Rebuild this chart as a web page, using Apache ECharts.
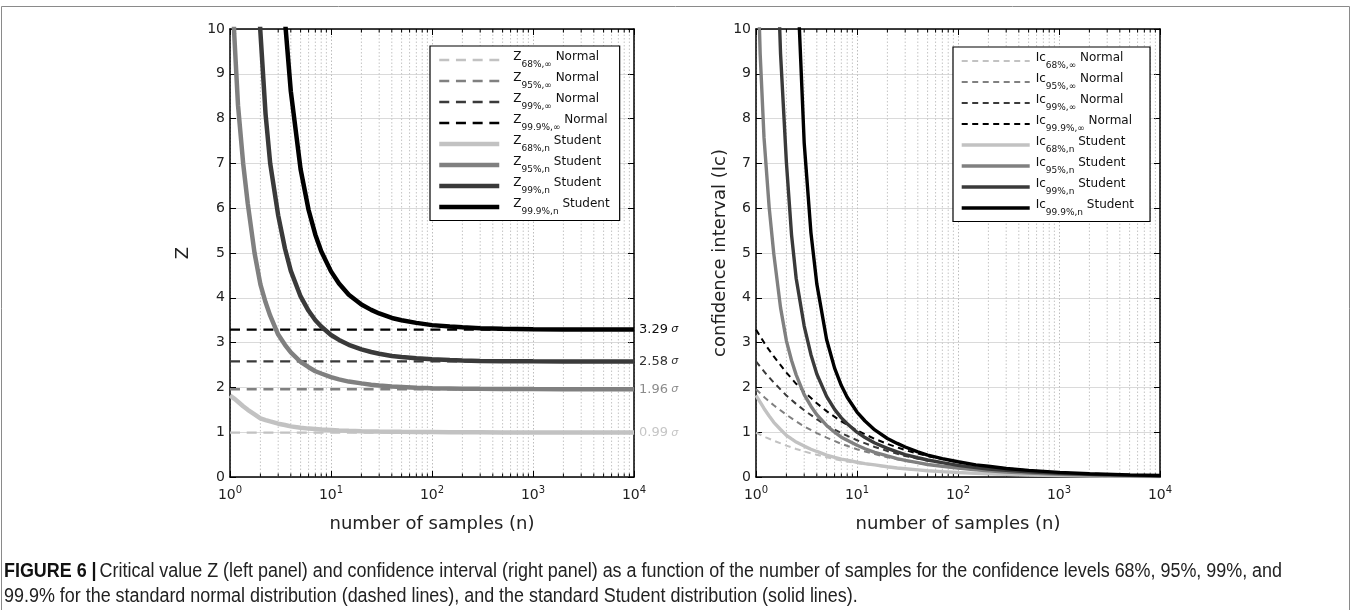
<!DOCTYPE html>
<html>
<head>
<meta charset="utf-8">
<script src="https://cdn.jsdelivr.net/npm/echarts@6.0.0/dist/echarts.min.js"></script>
<style>
  html, body { margin: 0; padding: 0; background: #fff; }
  #chart { width: 1356px; height: 610px; }
</style>
</head>
<body>
<div id="chart"></div>
<script>
// confidence levels and their normal-distribution critical values
const levels = ['68%', '95%', '99%', '99.9%'];
const normalZ = [0.99, 1.96, 2.58, 3.29];

// sample counts where the Student curves were read
const nSamples = [1, 1.1, 1.2, 1.35, 1.5, 1.75, 2, 2.25, 2.5, 3, 3.5, 4, 5, 6, 7, 8, 10, 12, 15, 20,
  25, 30, 40, 50, 70, 100, 150, 200, 300, 500, 1000, 2000, 5000, 10000];

// left panel: Student critical value Z
const zStudent68 = [1.82, 1.75, 1.68, 1.58, 1.50, 1.40, 1.31, 1.27, 1.24, 1.19, 1.16, 1.13, 1.10, 1.08, 1.07, 1.06, 1.05, 1.04, 1.03, 1.02,
  1.017, 1.014, 1.010, 1.008, 1.006, 1.004, 1.001, 0.999, 0.998, 0.996, 0.995, 0.994, 0.994, 0.994];
const zStudent95 = [12.71, 9.9, 8.3, 7.0, 6.1, 5.0, 4.30, 3.9, 3.6, 3.18, 2.95, 2.78, 2.57, 2.45, 2.36, 2.31, 2.23, 2.18, 2.13, 2.09,
  2.06, 2.04, 2.02, 2.01, 1.99, 1.98, 1.976, 1.972, 1.968, 1.965, 1.962, 1.961, 1.960, 1.960];
const zStudent99 = [null, null, null, null, null, 12.5, 9.93, 8.1, 7.0, 5.84, 5.1, 4.60, 4.03, 3.71, 3.50, 3.36, 3.17, 3.06, 2.95, 2.85,
  2.79, 2.75, 2.70, 2.68, 2.65, 2.63, 2.61, 2.60, 2.59, 2.586, 2.581, 2.578, 2.577, 2.576];
const zStudent999 = [null, null, null, null, null, null, null, null, null, 12.92, 10.2, 8.61, 6.87, 5.96, 5.41, 5.04, 4.59, 4.32, 4.07, 3.85,
  3.73, 3.65, 3.55, 3.50, 3.44, 3.39, 3.36, 3.34, 3.32, 3.31, 3.30, 3.295, 3.292, 3.291];

// right panel: Student confidence interval
const icStudent68 = [1.82, 1.67, 1.53, 1.36, 1.22, 1.06, 0.93, 0.85, 0.78, 0.69, 0.62, 0.57, 0.49, 0.44, 0.40, 0.375, 0.33, 0.30, 0.27, 0.23,
  0.20, 0.185, 0.16, 0.14, 0.12, 0.10, 0.082, 0.071, 0.058, 0.045, 0.031, 0.022, 0.014, 0.0099];
const icStudent95 = [12.71, 9.44, 7.58, 6.02, 4.98, 3.78, 3.04, 2.60, 2.28, 1.84, 1.58, 1.39, 1.15, 1.00, 0.89, 0.82, 0.71, 0.63, 0.55, 0.47,
  0.41, 0.37, 0.32, 0.28, 0.24, 0.20, 0.16, 0.14, 0.11, 0.088, 0.062, 0.044, 0.028, 0.0196];
const icStudent99 = [null, null, null, null, 13.9, 9.45, 7.02, 5.4, 4.43, 3.37, 2.73, 2.30, 1.80, 1.51, 1.32, 1.19, 1.00, 0.88, 0.76, 0.64,
  0.56, 0.50, 0.43, 0.38, 0.32, 0.26, 0.21, 0.18, 0.15, 0.116, 0.082, 0.058, 0.036, 0.026];
const icStudent999 = [null, null, null, null, null, null, null, null, 11.7, 7.46, 5.45, 4.31, 3.07, 2.43, 2.04, 1.78, 1.45, 1.25, 1.05, 0.86,
  0.75, 0.67, 0.56, 0.49, 0.41, 0.34, 0.27, 0.24, 0.19, 0.148, 0.104, 0.074, 0.047, 0.033];

// right panel: normal confidence interval
const nNormal = [1, 1.25, 1.5, 2, 2.5, 3, 4, 5, 7, 10, 15, 20, 30, 50, 100, 200, 500, 1000, 2000, 5000, 10000];
const icNormal68 = [0.99, 0.885, 0.81, 0.70, 0.626, 0.57, 0.495, 0.44, 0.37, 0.31, 0.26, 0.22, 0.18, 0.14, 0.099, 0.070, 0.044, 0.031, 0.022, 0.014, 0.0099];
const icNormal95 = [1.96, 1.75, 1.60, 1.39, 1.24, 1.13, 0.98, 0.88, 0.74, 0.62, 0.51, 0.44, 0.36, 0.28, 0.196, 0.139, 0.088, 0.062, 0.044, 0.028, 0.0196];
const icNormal99 = [2.58, 2.31, 2.11, 1.82, 1.63, 1.49, 1.29, 1.15, 0.98, 0.82, 0.67, 0.58, 0.47, 0.365, 0.258, 0.182, 0.115, 0.082, 0.058, 0.036, 0.026];
const icNormal999 = [3.29, 2.94, 2.69, 2.33, 2.08, 1.90, 1.645, 1.47, 1.24, 1.04, 0.85, 0.74, 0.60, 0.465, 0.329, 0.233, 0.147, 0.104, 0.074, 0.047, 0.033];

// minor log ticks / dotted grid
const minorTicks = [2, 3, 4, 5, 6, 7, 8, 9, 20, 30, 40, 50, 60, 70, 80, 90,
  200, 300, 400, 500, 600, 700, 800, 900, 2000, 3000, 4000, 5000, 6000, 7000, 8000, 9000];

const captionLine1 = 'Critical value Z (left panel) and confidence interval (right panel) as a function of the number of samples for the confidence levels 68%, 95%, 99%, and';
const captionLine2 = '99.9% for the standard normal distribution (dashed lines), and the standard Student distribution (solid lines).';

const FONT = 'DejaVu Sans';
const CAPTION_FONT = "'Liberation Sans', Arial, sans-serif";
const greys = ['#c2c2c2', '#808080', '#3a3a3a', '#000000'];
const labelGreys = ['#c6c6c6', '#8c8c8c', '#333333', '#111111'];

const pair = (xs, ys) => xs.map((x, i) => [x, ys[i]]);
const zStudent = [zStudent68, zStudent95, zStudent99, zStudent999];
const icStudent = [icStudent68, icStudent95, icStudent99, icStudent999];
const icNormal = [icNormal68, icNormal95, icNormal99, icNormal999];

const legendText = {};
const legendLine = {};
const series = [];

function addLine(name, label, axis, data, lineStyle, z, extra) {
  legendText[name] = label;
  legendLine[name] = lineStyle;
  series.push(Object.assign({
    name, type: 'line', xAxisIndex: axis, yAxisIndex: axis, symbol: 'none', showSymbol: false, z,
    data, itemStyle: { color: lineStyle.color }, lineStyle
  }, extra || {}));
}

levels.forEach((lvl, i) => {
  addLine('zN' + i, `{p| }{m|Z}{s|${lvl},∞}{m| Normal}`, 0,
    [[nSamples[0], normalZ[i]], [nSamples[nSamples.length - 1], normalZ[i]]],
    { color: greys[i], width: 2.4, type: [10, 6.7] }, 3, {
      endLabel: {
        show: true, distance: 5,
        formatter: () => `{n|${normalZ[i].toFixed(2)}} {s|σ}`,
        rich: {
          n: { fontFamily: FONT, fontSize: 13, color: labelGreys[i] },
          s: { fontFamily: FONT, fontSize: 11, fontStyle: 'italic', color: labelGreys[i] }
        }
      }
    });
});
levels.forEach((lvl, i) => {
  addLine('zS' + i, `{p| }{m|Z}{s|${lvl},n}{m| Student}`, 0,
    pair(nSamples, zStudent[i]), { color: greys[i], width: 4.5 }, 4);
});
levels.forEach((lvl, i) => {
  addLine('icN' + i, `{p| }{m|Ic}{s|${lvl},∞}{m| Normal}`, 2,
    pair(nNormal, icNormal[i]), { color: greys[i], width: 2, type: [6, 4.5] }, 3);
});
levels.forEach((lvl, i) => {
  addLine('icS' + i, `{p| }{m|Ic}{s|${lvl},n}{m| Student}`, 2,
    pair(nSamples, icStudent[i]), { color: greys[i], width: 3.4 }, 4);
});

// minor decade ticks and dotted grid lines, positioned by the log axis
[0, 2].forEach(ax => {
  series.push({
    type: 'custom', xAxisIndex: ax, yAxisIndex: ax, silent: true, z: 1,
    data: minorTicks.map(v => [v, 0]),
    encode: { x: 0, y: 1 },
    renderItem: (params, api) => {
      const b = api.coord([api.value(0), 0]);
      const t = api.coord([api.value(0), 10]);
      return {
        type: 'group',
        children: [
          { type: 'line', shape: { x1: b[0], y1: b[1], x2: t[0], y2: t[1] }, style: { stroke: '#c4c4c4', lineWidth: 1, lineDash: [1.5, 2] } },
          { type: 'line', shape: { x1: b[0], y1: b[1], x2: b[0], y2: b[1] - 3.5 }, style: { stroke: '#000', lineWidth: 1 } },
          { type: 'line', shape: { x1: t[0], y1: t[1], x2: t[0], y2: t[1] + 3.5 }, style: { stroke: '#000', lineWidth: 1 } }
        ]
      };
    }
  });
});

const axisLine = { show: true, onZero: false, lineStyle: { color: '#000', width: 1.5 } };
const tick = { show: true, inside: true, length: 6, lineStyle: { color: '#000', width: 1 } };

function xAxes(gridIndex) {
  return [
    {
      gridIndex, type: 'log', logBase: 10, min: 1, max: 10000, position: 'bottom',
      axisLine, axisTick: tick,
      axisLabel: {
        margin: 8,
        formatter: v => `{b|10}{e|${Math.round(Math.log10(v))}}`,
        rich: {
          b: { fontFamily: FONT, fontSize: 14, lineHeight: 20, color: '#222' },
          e: { fontFamily: FONT, fontSize: 10, verticalAlign: 'top', color: '#222' }
        }
      },
      splitLine: { show: true, lineStyle: { color: '#bdbdbd', width: 1, type: [1.5, 2] } },
      name: 'number of samples (n)', nameLocation: 'middle', nameGap: 38,
      nameTextStyle: { fontFamily: FONT, fontSize: 18, color: '#222' }
    },
    {
      gridIndex, type: 'log', logBase: 10, min: 1, max: 10000, position: 'top',
      axisLine, axisTick: tick, axisLabel: { show: false }, splitLine: { show: false }
    }
  ];
}

function yAxes(gridIndex, name, nameGap) {
  return [
    {
      gridIndex, type: 'value', min: 0, max: 10, interval: 1, position: 'left',
      axisLine, axisTick: tick,
      axisLabel: { margin: 5, fontFamily: FONT, fontSize: 14, color: '#222' },
      splitLine: { show: true, lineStyle: { color: '#dadada', width: 1 } },
      name, nameLocation: 'middle', nameGap,
      nameTextStyle: { fontFamily: FONT, fontSize: 18, color: '#222' }
    },
    {
      gridIndex, type: 'value', min: 0, max: 10, interval: 1, position: 'right',
      axisLine, axisTick: tick, axisLabel: { show: false }, splitLine: { show: false }
    }
  ];
}

const legendRich = {
  m: { fontFamily: FONT, fontSize: 12, lineHeight: 14, verticalAlign: 'top', color: '#111' },
  s: { fontFamily: FONT, fontSize: 9, lineHeight: 10, verticalAlign: 'bottom', color: '#111' }
};
function legend(names, left, top, lineW, textPad, padding) {
  return {
    data: names.map(name => ({
      name,
      itemStyle: { opacity: 0 },
      lineStyle: legendLine[name]
    })),
    left, top, orient: 'vertical', selectedMode: false,
    itemWidth: lineW, itemHeight: 14, itemGap: 2, padding,
    borderColor: '#000', borderWidth: 1.2, backgroundColor: '#fff',
    formatter: name => legendText[name],
    textStyle: {
      fontFamily: FONT, color: '#111',
      rich: Object.assign({ p: { width: textPad, lineHeight: 19, fontSize: 12 } }, legendRich)
    }
  };
}

const chart = echarts.init(document.getElementById('chart'));
chart.setOption({
  backgroundColor: '#fff',
  animation: false,
  grid: [
    { left: 230, top: 29, width: 404, height: 448 },
    { left: 756, top: 29, width: 404, height: 448 }
  ],
  xAxis: [...xAxes(0), ...xAxes(1)],
  yAxis: [...yAxes(0, 'Z', 38), ...yAxes(1, 'confidence interval (Ic)', 24)],
  legend: [
    legend(['zN0', 'zN1', 'zN2', 'zN3', 'zS0', 'zS1', 'zS2', 'zS3'], 430, 46, 60, 9, [4.5, 10, 4, 7]),
    legend(['icN0', 'icN1', 'icN2', 'icN3', 'icS0', 'icS1', 'icS2', 'icS3'], 953, 47, 68, 1, [4.5, 16, 4, 7])
  ],
  series,
  graphic: [
    {
      type: 'rect', silent: true, z: -10,
      shape: { x: 1.5, y: 6.5, width: 1348, height: 640 },
      style: { fill: 'none', stroke: '#8a8a8a', lineWidth: 1 }
    },
    {
      type: 'text', x: 4, y: 559, scaleX: 0.896, silent: true,
      style: {
        x: 0, y: 0,
        text: `{b|FIGURE 6 |} {t|${captionLine1}}\n{t|${captionLine2}}`,
        lineHeight: 25,
        rich: {
          b: { fontFamily: CAPTION_FONT, fontWeight: 'bold', fontSize: 20, lineHeight: 25, fill: '#111' },
          t: { fontFamily: CAPTION_FONT, fontSize: 20, lineHeight: 25, fill: '#222' }
        }
      }
    }
  ]
});
</script>
</body>
</html>
